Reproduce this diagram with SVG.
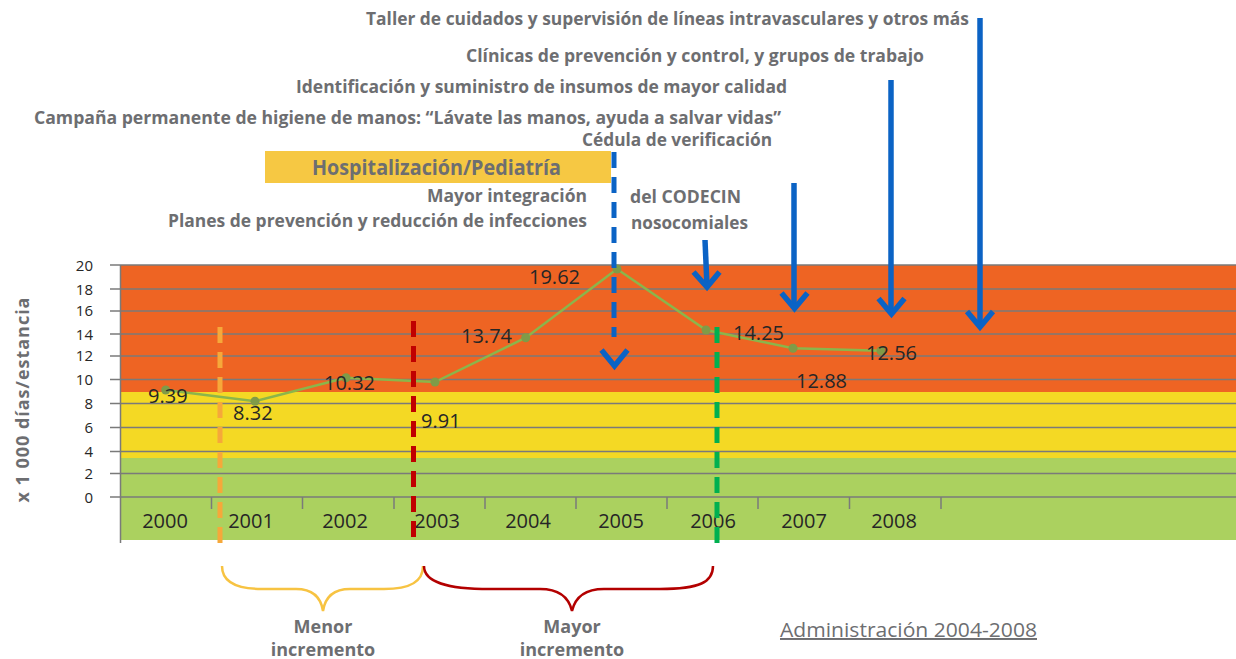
<svg xmlns="http://www.w3.org/2000/svg" width="1236" height="659" viewBox="0 0 1236 659">
<style>
.t{font-family:"Open Sans","Noto Sans","Liberation Sans",sans-serif;font-weight:bold;fill:#6d6e71}
.n{font-family:"Open Sans","Noto Sans","Liberation Sans",sans-serif;fill:#262626}
.g{stroke:#7a7a7a;stroke-width:1.5}
.ba{fill:none;stroke:#0b63c5;stroke-width:5.5}
.dash{fill:none;stroke-width:5;stroke-dasharray:16 9}
</style>
<rect width="1236" height="659" fill="#fff"/>

<g id="chart">
<rect x="120" y="265" width="1116" height="127" fill="#ee6423"/>
<rect x="120" y="392" width="1116" height="66" fill="#f4d924"/>
<rect x="120" y="458" width="1116" height="82" fill="#abd15f"/>
<g class="g">
<line x1="110" y1="265" x2="1236" y2="265"/>
<line x1="110" y1="289" x2="1236" y2="289"/>
<line x1="110" y1="311" x2="1236" y2="311"/>
<line x1="110" y1="334" x2="1236" y2="334"/>
<line x1="110" y1="356" x2="1236" y2="356"/>
<line x1="110" y1="379.5" x2="1236" y2="379.5"/>
<line x1="110" y1="403.5" x2="1236" y2="403.5"/>
<line x1="110" y1="427.5" x2="1236" y2="427.5"/>
<line x1="110" y1="451.5" x2="1236" y2="451.5"/>
<line x1="110" y1="473.5" x2="1236" y2="473.5"/>
<line x1="110" y1="497" x2="1236" y2="497"/>
<line x1="120.5" y1="265" x2="120.5" y2="543"/>
<line x1="211.5" y1="497" x2="211.5" y2="509"/>
<line x1="302.5" y1="497" x2="302.5" y2="509"/>
<line x1="394" y1="497" x2="394" y2="509"/>
<line x1="485" y1="497" x2="485" y2="509"/>
<line x1="576" y1="497" x2="576" y2="509"/>
<line x1="667" y1="497" x2="667" y2="509"/>
<line x1="758" y1="497" x2="758" y2="509"/>
<line x1="849.5" y1="497" x2="849.5" y2="509"/>
<line x1="941" y1="497" x2="941" y2="509"/>
</g>
<g class="n" font-size="15" fill="#404040" text-anchor="end">
<text x="93" y="270.5">20</text>
<text x="93" y="294.5">18</text>
<text x="93" y="316">16</text>
<text x="93" y="339.5">14</text>
<text x="93" y="361">12</text>
<text x="93" y="385">10</text>
<text x="93" y="409">8</text>
<text x="93" y="433">6</text>
<text x="93" y="457">4</text>
<text x="93" y="479">2</text>
<text x="93" y="502.5">0</text>
</g>
<g class="n" font-size="20" text-anchor="middle">
<text x="165" y="528">2000</text>
<text x="251" y="528">2001</text>
<text x="345" y="528">2002</text>
<text x="437" y="528">2003</text>
<text x="528" y="528">2004</text>
<text x="621" y="528">2005</text>
<text x="713" y="528">2006</text>
<text x="804" y="528">2007</text>
<text x="894" y="528">2008</text>
</g>
<text class="t" font-size="18" text-anchor="middle" transform="translate(28.5,400) rotate(-90)" textLength="205">x 1 000 días/estancia</text>
</g>

<g id="series">
<polyline points="165.7,390 255,401.3 346,377.7 435,382 525.7,337.7 617,269 706,330 793,348.3 881,350.7" fill="none" stroke="#8bb54b" stroke-width="2.5"/>
<g fill="#7f9b48">
<circle cx="165.7" cy="390" r="4.5"/><circle cx="255" cy="401.3" r="4.5"/><circle cx="346" cy="377.7" r="4.5"/>
<circle cx="435" cy="382" r="4.5"/><circle cx="525.7" cy="337.7" r="4.5"/><circle cx="617" cy="269" r="4.5"/>
<circle cx="706" cy="330" r="4.5"/><circle cx="793" cy="348.3" r="4.5"/><circle cx="881" cy="350.7" r="4.5"/>
</g>
<g class="n" font-size="20">
<text x="148" y="403">9.39</text>
<text x="233" y="420">8.32</text>
<text x="324" y="390">10.32</text>
<text x="421" y="427.5">9.91</text>
<text x="461" y="343">13.74</text>
<text x="529" y="284">19.62</text>
<text x="733" y="340">14.25</text>
<text x="796" y="387.5">12.88</text>
<text x="866" y="360">12.56</text>
</g>
</g>

<g id="labels">
<text class="t" font-size="17.5" x="366" y="25" textLength="603" lengthAdjust="spacingAndGlyphs">Taller de cuidados y supervisión de líneas intravasculares y otros más</text>
<text class="t" font-size="17.5" x="466" y="62" textLength="458" lengthAdjust="spacingAndGlyphs">Clínicas de prevención y control, y grupos de trabajo</text>
<text class="t" font-size="17.5" x="296" y="93" textLength="491" lengthAdjust="spacingAndGlyphs">Identificación y suministro de insumos de mayor calidad</text>
<text class="t" font-size="17" x="34" y="123.5" textLength="747" lengthAdjust="spacingAndGlyphs">Campaña permanente de higiene de manos: “Lávate las manos, ayuda a salvar vidas”</text>
<text class="t" font-size="17" x="582" y="146" textLength="190" lengthAdjust="spacingAndGlyphs">Cédula de verificación</text>
<text class="t" font-size="17.5" x="427" y="202" textLength="160" lengthAdjust="spacingAndGlyphs">Mayor integración</text>
<text class="t" font-size="17.5" x="168" y="227" textLength="419" lengthAdjust="spacingAndGlyphs">Planes de prevención y reducción de infecciones</text>
<text class="t" font-size="17.5" x="630" y="203" textLength="111" lengthAdjust="spacingAndGlyphs">del CODECIN</text>
<text class="t" font-size="17.5" x="631" y="229" textLength="117" lengthAdjust="spacingAndGlyphs">nosocomiales</text>
</g>

<g id="box-hospitalizacion">
<rect x="265" y="151" width="346" height="32" fill="#f6c843"/>
<text class="t" font-size="21" x="312" y="175" textLength="249" lengthAdjust="spacingAndGlyphs">Hospitalización/Pediatría</text>
</g>

<g id="connectors">
<line class="dash" x1="220" y1="327" x2="220" y2="546" stroke="#f6a83a" stroke-dasharray="16 8"/>
<line class="dash" x1="413.5" y1="321" x2="413.5" y2="546" stroke="#c00000"/>
<line class="dash" x1="717" y1="327" x2="717" y2="546" stroke="#00b050"/>
<line class="dash" x1="614" y1="152" x2="614" y2="337" stroke="#0b63c5" stroke-dasharray="16 11.7"/>
<polyline class="ba" points="601.5,350 614.5,366 627.5,350"/>
<polyline class="ba" points="705,240 707,286"/>
<polyline class="ba" points="693.5,272 707,287 719.5,272"/>
<line class="ba" x1="794" y1="183" x2="794" y2="307"/>
<polyline class="ba" points="781.5,293 794.5,308.5 807.5,293"/>
<line class="ba" x1="891" y1="80" x2="891" y2="313"/>
<polyline class="ba" points="878.5,298.5 891.5,314 904.5,298.5"/>
<line class="ba" x1="980" y1="18" x2="980" y2="325"/>
<polyline class="ba" points="967,311.5 980,327 993,311.5"/>
</g>

<g id="brace-menor">
<path d="M222,566 C222,582 236,589 262,589 L296,589 C313,589 321,598 323,611 C325,598 333,589 350,589 L384,589 C410,589 423,582 423,566" fill="none" stroke="#f7c342" stroke-width="2.5"/>
<text class="t" font-size="18" text-anchor="middle" x="323" y="633">Menor</text>
<text class="t" font-size="18" text-anchor="middle" x="323" y="656">incremento</text>
</g>
<g id="brace-mayor">
<path d="M424,566 C424,582 446,589 490,589 L540,589 C560,589 569,598 572,611 C575,598 584,589 604,589 L660,589 C700,589 713,582 713,566" fill="none" stroke="#b30000" stroke-width="2.5"/>
<text class="t" font-size="18" text-anchor="middle" x="572" y="633">Mayor</text>
<text class="t" font-size="18" text-anchor="middle" x="572" y="656">incremento</text>
</g>
<g id="admin">
<text class="t" font-size="19.5" x="780" y="637" textLength="257" lengthAdjust="spacingAndGlyphs" text-decoration="underline" style="font-weight:normal">Administración 2004-2008</text>
</g>
</svg>
